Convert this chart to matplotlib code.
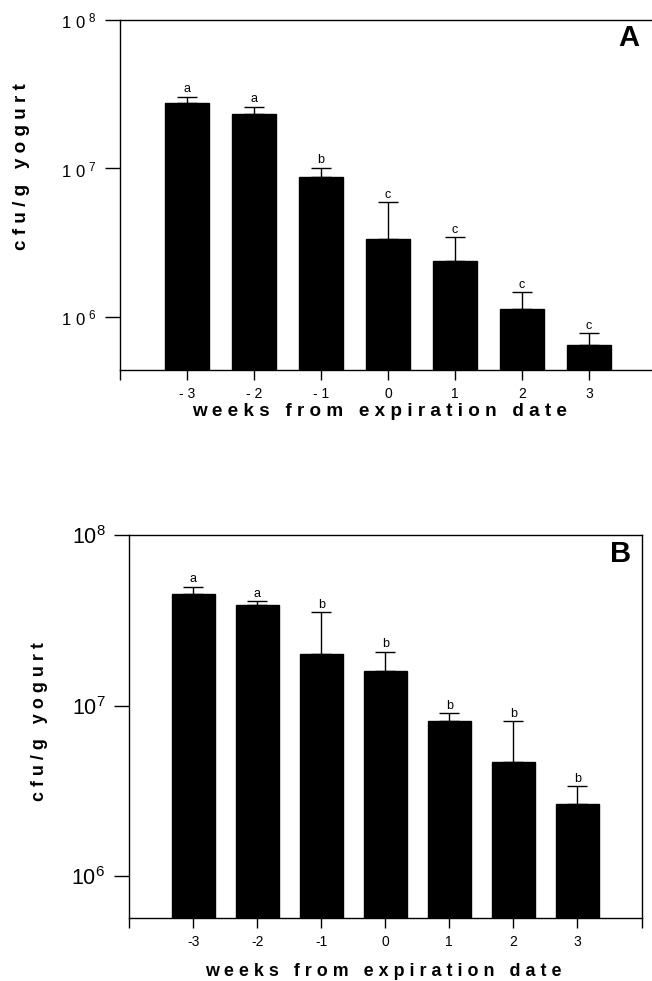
import numpy as np
import matplotlib.pyplot as plt

plt.rcParams['font.family'] = ['Liberation Sans', 'DejaVu Sans']

weeks = [-3, -2, -1, 0, 1, 2, 3]

# panel A: bar tops and upper error bar ends (cfu/g)
a_mean = [2.75e7, 2.34e7, 8.8e6, 3.34e6, 2.38e6, 1.14e6, 6.45e5]
a_upper = [3.05e7, 2.61e7, 1.01e7, 5.95e6, 3.44e6, 1.47e6, 7.77e5]
a_letters = ['a', 'a', 'b', 'c', 'c', 'c', 'c']

# panel B
b_mean = [4.52e7, 3.9e7, 2.0e7, 1.59e7, 8.15e6, 4.64e6, 2.64e6]
b_upper = [4.99e7, 4.1e7, 3.53e7, 2.07e7, 9.0e6, 8.09e6, 3.37e6]
b_letters = ['a', 'a', 'b', 'b', 'b', 'b', 'b']

W, H = 652, 981
fig = plt.figure(figsize=(W / 100, H / 100), dpi=100)

XLAB = 'w e e k s   f r o m   e x p i r a t i o n   d a t e'
YLAB = 'c f u / g   y o g u r t'


def panel(rect, mean, upper, letters, ylow, tag, tag_xy, spaced, right_spine):
    ax = fig.add_axes(rect)
    x = np.array(weeks)
    mean = np.array(mean)
    upper = np.array(upper)
    ax.bar(x, mean, width=0.67, bottom=1, color='black', edgecolor='black')
    ax.errorbar(x, mean, yerr=[np.zeros(len(x)), upper - mean], fmt='none',
                ecolor='black', elinewidth=1, capsize=7, capthick=1)
    for xi, ui, lab in zip(x, upper, letters):
        ax.annotate(lab, (xi, ui), xytext=(0, 1), textcoords='offset points',
                    ha='center', va='bottom', fontsize=9)
    ax.set_yscale('log')
    ax.set_ylim(ylow, 1e8)
    ax.set_xlim(-4, 4)
    ax.set_xticks(range(-4, 5))
    if spaced:
        xl = [''] + ['- %d' % abs(w) if w < 0 else str(w) for w in weeks] + ['']
        yl = [r'$\mathregular{1\ 0^{\ %d}}$' % e for e in (6, 7, 8)]
        yfs = 12
    else:
        xl = [''] + [str(w) for w in weeks] + ['']
        yl = [r'$\mathregular{10^{%d}}$' % e for e in (6, 7, 8)]
        yfs = 15.5
    ax.set_xticklabels(xl, fontsize=10)
    ax.set_yticks([1e6, 1e7, 1e8])
    ax.set_yticklabels(yl, fontsize=yfs)
    ax.yaxis.set_minor_locator(plt.NullLocator())
    ax.tick_params(axis='x', direction='out', length=7, width=1, pad=5)
    ax.tick_params(axis='y', direction='out', length=11, width=1, pad=6)
    ax.spines['right'].set_visible(right_spine)
    for s in ax.spines.values():
        s.set_linewidth(1)
    ax.text(tag_xy[0], tag_xy[1], tag, transform=ax.transAxes, fontsize=21,
            fontweight='bold', ha='center', va='center')
    return ax


axA = panel([120 / W, 1 - 370 / H, 536 / W, 350 / H], a_mean, a_upper, a_letters,
            10 ** 5.643, 'A', (0.95, 0.95), True, False)
axB = panel([129 / W, 1 - 918.3 / H, 512.5 / W, 383 / H], b_mean, b_upper, b_letters,
            10 ** 5.752, 'B', (0.96, 0.95), False, True)

# axis titles placed in figure pixels
lab = dict(fontweight='bold', ha='center', va='center')
fig.text(379 / W, 1 - 411 / H, XLAB, fontsize=13.6, **lab)
fig.text(383 / W, 1 - 971 / H, XLAB, fontsize=12.9, **lab)
fig.text(22 / W, 1 - 167 / H, YLAB, rotation=90, fontsize=13.6, **lab)
fig.text(40 / W, 1 - 722 / H, YLAB, rotation=90, fontsize=12.9, **lab)

fig.savefig('out.png', dpi=100)
